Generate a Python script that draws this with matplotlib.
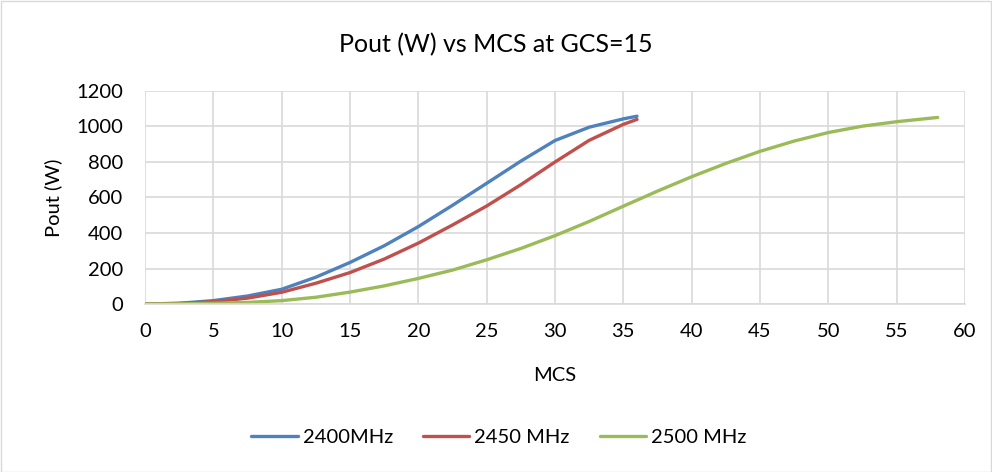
import matplotlib
matplotlib.use("Agg")
import matplotlib.pyplot as plt
from matplotlib.patches import Rectangle

plt.rcParams['font.family'] = ['Lato', 'DejaVu Sans']

mcs_2400 = [0, 2.5, 5, 7.5, 10, 12.5, 15, 17.5, 20, 22.5, 25, 27.5, 30, 32.5, 35, 36]
pout_2400 = [0, 4, 19, 45, 83, 151, 234, 328, 436, 556, 680, 805, 921, 996, 1043, 1058]

mcs_2450 = [0, 2.5, 5, 7.5, 10, 12.5, 15, 17.5, 20, 22.5, 25, 27.5, 30, 32.5, 35, 36]
pout_2450 = [0, 3, 13, 33, 66, 117, 177, 253, 343, 445, 552, 672, 800, 922, 1012, 1040]

mcs_2500 = [0, 2.5, 5, 7.5, 10, 12.5, 15, 17.5, 20, 22.5, 25, 27.5, 30, 32.5, 35,
            37.5, 40, 42.5, 45, 47.5, 50, 52.5, 55, 58]
pout_2500 = [0, 1, 4, 9, 19, 38, 67, 102, 144, 191, 249, 313, 385, 465, 551,
             636, 717, 792, 860, 918, 966, 1002, 1027, 1051]

labels = ['2400MHz', '2450 MHz', '2500 MHz']
colors = ['#4F81BD', '#C0504D', '#9BBB59']

fig = plt.figure(figsize=(9.92, 4.72), dpi=100)
ax = fig.add_axes([145/992, 1-304/472, 820/992, 213/472])

for x, y, lab, c in zip([mcs_2400, mcs_2450, mcs_2500],
                        [pout_2400, pout_2450, pout_2500], labels, colors):
    ax.plot(x, y, color=c, lw=2.4, label=lab, solid_capstyle='round',
            solid_joinstyle='round')

ax.set_xlim(0, 60)
ax.set_ylim(0, 1200)
ax.set_xticks(range(0, 61, 5))
ax.set_yticks(range(0, 1201, 200))
ax.grid(True, color='#D9D9D9', lw=1.2)
ax.set_axisbelow(True)
for s in ['top', 'right', 'left']:
    ax.spines[s].set_visible(False)
ax.spines['bottom'].set_color('#D9D9D9')
ax.spines['bottom'].set_linewidth(1.2)
ax.tick_params(axis='x', length=0, labelsize=14.5, colors='#000000', pad=14)
ax.tick_params(axis='y', length=0, labelsize=14.5, colors='#000000', pad=16)

ax.set_xlabel('MCS', fontsize=14.5, labelpad=19)
ax.set_ylabel('Pout (W)', fontsize=14.5, labelpad=10)
fig.text(0.5, 1-45/472, 'Pout (W) vs MCS at GCS=15', ha='center', va='center', fontsize=18)

fig.legend(loc='center', bbox_to_anchor=(0.503, 1-437/472), ncol=3, frameon=False,
           fontsize=14.5, handlelength=2.3, handletextpad=0.25, columnspacing=1.5)

fig.patches.append(Rectangle((0.5/992, 0.5/472), 1-1.5/992, 1-1.5/472, transform=fig.transFigure,
                             fill=False, edgecolor='#D9D9D9', lw=1))

fig.savefig('out.png', dpi=100)
